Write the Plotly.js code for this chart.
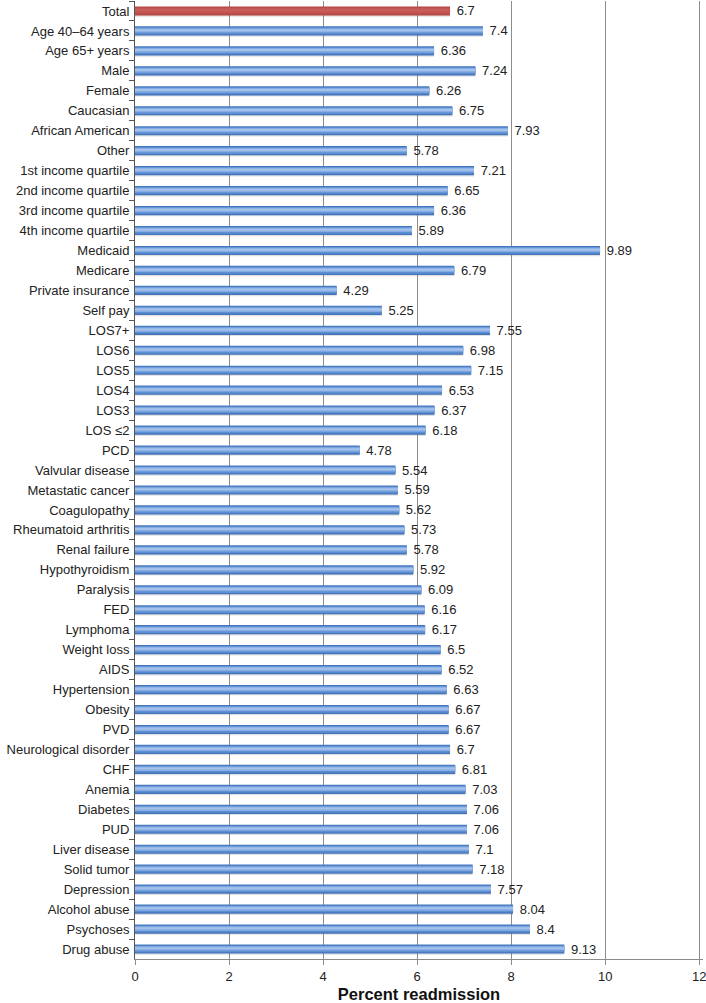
<!DOCTYPE html>
<html><head><meta charset="utf-8">
<script src="https://cdn.plot.ly/plotly-3.0.1.min.js"></script>
<style>html,body{margin:0;padding:0;background:#fff;}#chart{width:706px;height:1003px;}</style>
</head><body><div id="chart"></div>
<script>
const categories = ["Total","Age 40–64 years","Age 65+ years","Male","Female","Caucasian","African American","Other","1st income quartile","2nd income quartile","3rd income quartile","4th income quartile","Medicaid","Medicare","Private insurance","Self pay","LOS7+","LOS6","LOS5","LOS4","LOS3","LOS ≤2","PCD","Valvular disease","Metastatic cancer","Coagulopathy","Rheumatoid arthritis","Renal failure","Hypothyroidism","Paralysis","FED","Lymphoma","Weight loss","AIDS","Hypertension","Obesity","PVD","Neurological disorder","CHF","Anemia","Diabetes","PUD","Liver disease","Solid tumor","Depression","Alcohol abuse","Psychoses","Drug abuse"];
const values = [6.7,7.4,6.36,7.24,6.26,6.75,7.93,5.78,7.21,6.65,6.36,5.89,9.89,6.79,4.29,5.25,7.55,6.98,7.15,6.53,6.37,6.18,4.78,5.54,5.59,5.62,5.73,5.78,5.92,6.09,6.16,6.17,6.5,6.52,6.63,6.67,6.67,6.7,6.81,7.03,7.06,7.06,7.1,7.18,7.57,8.04,8.4,9.13];
const xTicks = [0,2,4,6,8,10,12];

const col = (i, red, blue) => i===0 ? red : blue;
const c1 = categories.map((c,i)=> col(i,'#b44743','#4275bb'));
const c2 = categories.map((c,i)=> col(i,'#bf504c','#5d8ed2'));
const c3 = categories.map((c,i)=> col(i,'#c45754','#86ace3'));
const c4 = categories.map((c,i)=> col(i,'#c85d5a','#a3c2ec'));

const common = {type:'bar', orientation:'h', y:categories, x:values, hoverinfo:'skip'};
const traces = [
  Object.assign({}, common, {width:0.46, offset:-0.17, marker:{color:'rgba(120,120,120,0.22)', line:{width:0}}}),
  Object.assign({}, common, {width:0.46, marker:{color:c1, line:{width:0}},
   text:values.map(v=>' '+v), textposition:'outside', cliponaxis:false, constraintext:'none',
   textfont:{family:'Liberation Sans, Arial, sans-serif', size:13, color:'#222'}, hoverinfo:'x+y'}),
  Object.assign({}, common, {width:0.34, offset:-0.18, marker:{color:c2, line:{width:0}}}),
  Object.assign({}, common, {width:0.22, offset:-0.14, marker:{color:c3, line:{width:0}}}),
  Object.assign({}, common, {width:0.1, offset:-0.09, marker:{color:c4, line:{width:0}}})
];

const layout = {
  width:706, height:1003,
  margin:{l:135, r:3, t:1, b:44},
  paper_bgcolor:'#fff', plot_bgcolor:'#fff',
  barmode:'overlay', showlegend:false,
  font:{family:'Liberation Sans, Arial, sans-serif', size:13, color:'#222'},
  xaxis:{range:[0,12.08], tickvals:xTicks, ticktext:xTicks.map(String),
    showgrid:true, gridcolor:'#8c8c8c', gridwidth:1, zeroline:false,
    showline:true, linecolor:'#8c8c8c', linewidth:1,
    ticks:'outside', ticklen:5, tickcolor:'#8c8c8c', ticklabeloverflow:'allow',
    tickfont:{size:13, color:'#222'},
    title:{text:'Percent readmission', font:{size:16.5, color:'#111', weight:'bold'}, standoff:12}},
  yaxis:{type:'category', autorange:'reversed', tickson:'boundaries',
    ticks:'outside', ticklen:5, tickcolor:'#555',
    showline:true, linecolor:'#555', linewidth:1, showgrid:false,
    tickfont:{size:13, color:'#222'}, ticklabelstandoff:2}
};
Plotly.newPlot('chart', traces, layout, {displayModeBar:false, staticPlot:true});
</script></body></html>
